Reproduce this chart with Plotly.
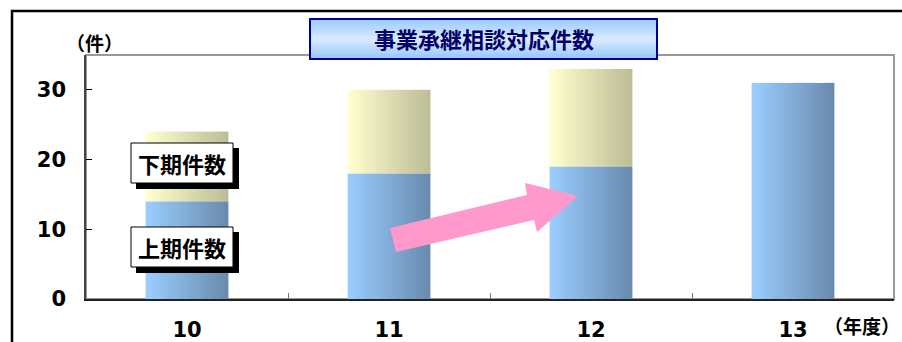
import plotly.graph_objects as go

# 年度ごとの事業承継相談対応件数
years = ['10', '11', '12', '13']
first_half = [14, 18, 19, 31]   # 上期件数
second_half = [10, 12, 14, 0]   # 下期件数

W, H = 902, 342
L, R, T, B = 86, 8, 55, 43
PW, PH = W - L - R, H - T - B


def px_x(p):
    return (p - L) / PW


def px_y(p):
    return (H - B - p) / PH


def mix(c1, c2, t):
    a = [int(c1[i:i + 2], 16) for i in (1, 3, 5)]
    b = [int(c2[i:i + 2], 16) for i in (1, 3, 5)]
    return '#%02x%02x%02x' % tuple(round(a[k] + (b[k] - a[k]) * t) for k in range(3))


JP = 'Noto Sans CJK JP'
NUM = 'DejaVu Sans'

fig = go.Figure()

# 横方向グラデーションを細い棒の重ね合わせで表現
bar_w = 0.41
n = 40
step = bar_w / n
base_upper = first_half
for i in range(n):
    t = i / (n - 1)
    wi = step if i == n - 1 else step * 1.6
    off = -bar_w / 2 + i * step
    fig.add_trace(go.Bar(
        x=years, y=first_half, base=[0] * len(years), width=wi, offset=off,
        marker=dict(color=mix('#9acdff', '#6a8bae', t), line=dict(width=0)),
        showlegend=False, hoverinfo='skip'
    ))
    fig.add_trace(go.Bar(
        x=years, y=second_half, base=base_upper, width=wi, offset=off,
        marker=dict(color=mix('#ffffd0', '#bdbd97', t), line=dict(width=0)),
        showlegend=False, hoverinfo='skip'
    ))

shapes = []
# 外枠
shapes.append(dict(type='rect', xref='paper', yref='paper',
                   x0=px_x(12), x1=px_x(930), y0=px_y(11), y1=px_y(380),
                   line=dict(color='black', width=2.5), layer='below'))
# プロット枠（上・右は灰色）
shapes.append(dict(type='rect', xref='paper', yref='paper', x0=0, x1=1, y0=0, y1=1,
                   line=dict(color='#999999', width=2), layer='below'))

# タイトルボックス（縦グラデーション）
tx0, tx1, ty0, ty1 = 310, 657, 19, 59
strips = 16
for k in range(strips):
    t = k / (strips - 1)
    c = mix('#9ccbff', '#dcebff', t / 0.5) if t <= 0.5 else mix('#dcebff', '#98c8ff', (t - 0.5) / 0.5)
    ya = ty0 + (ty1 - ty0) * k / strips
    yb = ty0 + (ty1 - ty0) * (k + 1) / strips + 0.6
    shapes.append(dict(type='rect', xref='paper', yref='paper',
                       x0=px_x(tx0), x1=px_x(tx1), y0=px_y(ya), y1=px_y(min(yb, ty1)),
                       fillcolor=c, line=dict(width=0)))
shapes.append(dict(type='rect', xref='paper', yref='paper',
                   x0=px_x(tx0), x1=px_x(tx1), y0=px_y(ty0), y1=px_y(ty1),
                   line=dict(color='#000099', width=2)))

# 凡例ラベルボックス（影付き）
for (bx0, by0, bx1, by1) in [(131, 143, 233, 183), (131, 227, 233, 267)]:
    shapes.append(dict(type='rect', xref='paper', yref='paper',
                       x0=px_x(bx0 + 5), x1=px_x(bx1 + 6), y0=px_y(by0 + 5), y1=px_y(by1 + 6),
                       fillcolor='black', line=dict(width=0)))
    shapes.append(dict(type='rect', xref='paper', yref='paper',
                       x0=px_x(bx0), x1=px_x(bx1), y0=px_y(by0), y1=px_y(by1),
                       fillcolor='white', line=dict(color='black', width=1)))

# 増加を示す矢印
arrow = [(390, 228), (527, 195), (525, 183), (578, 196), (537, 232), (534, 220), (396, 252)]
path = 'M ' + ' L '.join('%.4f,%.4f' % (px_x(a), px_y(b)) for a, b in arrow) + ' Z'
shapes.append(dict(type='path', xref='paper', yref='paper', path=path,
                   fillcolor='#ff99cc', line=dict(width=0)))


def label(text, x, y, size, color='black'):
    return dict(text='<b>%s</b>' % text, x=px_x(x), y=px_y(y), xref='paper', yref='paper',
                xanchor='center', yanchor='middle', showarrow=False,
                font=dict(family=JP, size=size, color=color))


annotations = [
    label('事業承継相談対応件数', 484, 38, 22, '#000066'),
    label('下期件数', 182, 163, 22),
    label('上期件数', 182, 247, 22),
    label('（件）', 94, 43, 19),
    label('（年度）', 862, 325, 19),
]

fig.update_layout(
    width=W, height=H,
    margin=dict(l=L, r=R, t=T, b=B, pad=0),
    paper_bgcolor='white', plot_bgcolor='white',
    barmode='overlay',
    shapes=shapes, annotations=annotations,
    xaxis=dict(type='category', showgrid=False, showline=True, linecolor='#222222', linewidth=1.5,
               ticks='inside', tickson='boundaries', ticklen=6, tickcolor='#777777',
               tickfont=dict(family=NUM, size=21, color='black', weight='bold'),
               ticklabelstandoff=11, zeroline=False, automargin=False),
    yaxis=dict(range=[0, 35], tickvals=[0, 10, 20, 30], showgrid=False, showline=True,
               linecolor='#444444', linewidth=1.5, ticks='inside', ticklen=6, tickcolor='black',
               tickfont=dict(family=NUM, size=21, color='black', weight='bold'),
               ticklabelstandoff=14, zeroline=False, automargin=False),
)

# ページ余白をなくして 902x342 にぴったり合わせる
fig.write_html('out.html', config={'displayModeBar': False},
               post_script="document.body.style.margin='0';")
